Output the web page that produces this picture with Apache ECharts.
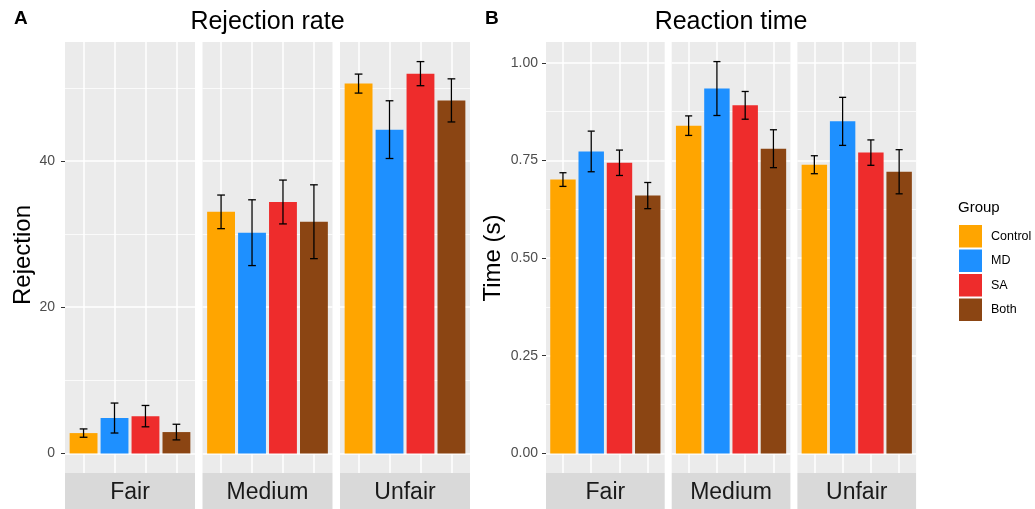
<!DOCTYPE html>
<html>
<head>
<meta charset="utf-8">
<script src="https://cdn.jsdelivr.net/npm/echarts@6/dist/echarts.min.js"></script>
<style>
html, body { margin: 0; padding: 0; background: #fff; }
#chart { width: 1035px; height: 509px; }
</style>
</head>
<body>
<div id="chart"></div>
<script>
// groups / facets
var groups = ['Control', 'MD', 'SA', 'Both'];
var conditions = ['Fair', 'Medium', 'Unfair'];
var groupColors = ['#FFA500', '#1E90FF', '#EE2C2C', '#8B4513'];

// rejection rate, one row per condition, one column per group
var rejectionMean = [
	[2.78, 4.84, 5.10, 2.92],
	[33.05, 30.2, 34.4, 31.7],
	[50.6, 44.3, 51.96, 48.3]
];
var rejectionSe = [
	[0.57, 2.05, 1.46, 1.07],
	[2.3, 4.5, 3.0, 5.05],
	[1.3, 3.95, 1.65, 2.95]
];
var rejectionTicks = [0, 20, 40];
var rejectionMinor = [10, 30, 50];

// reaction time (s)
var timeMean = [
	[0.701, 0.773, 0.744, 0.660],
	[0.839, 0.934, 0.891, 0.780],
	[0.739, 0.850, 0.770, 0.721]
];
var timeSe = [
	[0.0175, 0.052, 0.0325, 0.0335],
	[0.025, 0.069, 0.0355, 0.0485],
	[0.023, 0.0615, 0.0325, 0.0565]
];
var timeTicks = [0, 0.25, 0.5, 0.75, 1.0];
var timeMinor = [0.125, 0.375, 0.625, 0.875];

var FONT = '"Liberation Sans", Arial, sans-serif';
var panelTop = 42, panelHeight = 431, stripHeight = 38;

var rows = [{
	title: 'Rejection rate', letter: 'A', letterX: 14, yName: 'Rejection', yNameX: 23.5, yNameY: 255,
	mean: rejectionMean, se: rejectionSe, ticks: rejectionTicks, minor: rejectionMinor,
	lefts: [65, 202.5, 340], width: 130,
	fmt: function(v) { return String(v); }, labelMargin: 10
}, {
	title: 'Reaction time', letter: 'B', letterX: 485, yName: 'Time (s)', yNameX: 493, yNameY: 258,
	mean: timeMean, se: timeSe, ticks: timeTicks, minor: timeMinor,
	lefts: [546, 671.7, 797.4], width: 118.7,
	fmt: function(v) { return v.toFixed(2); }, labelMargin: 8
}];

var xPos = groups.map(function(g, k) { return k + 1; });

var grid = [], xAxis = [], yAxis = [], series = [], graphic = [];

function errorBarItem(params, api) {
	var x = api.value(0);
	var lo = api.coord([x, api.value(1)]);
	var hi = api.coord([x, api.value(2)]);
	var half = api.size([0.25, 0])[0] / 2;
	var st = { stroke: '#000', lineWidth: 1.3 };
	return {
		type: 'group',
		children: [
			{ type: 'line', shape: { x1: lo[0], y1: lo[1], x2: hi[0], y2: hi[1] }, style: st },
			{ type: 'line', shape: { x1: hi[0] - half, y1: hi[1], x2: hi[0] + half, y2: hi[1] }, style: st },
			{ type: 'line', shape: { x1: lo[0] - half, y1: lo[1], x2: lo[0] + half, y2: lo[1] }, style: st }
		]
	};
}

rows.forEach(function(row, r) {
	// ggplot style 5% expansion
	var top = 0;
	row.mean.forEach(function(m, c) {
		m.forEach(function(v, k) { top = Math.max(top, v + row.se[c][k]); });
	});
	var pad = top * 0.05;
	var yMin = -pad, yMax = top + pad;

	conditions.forEach(function(cond, c) {
		var idx = r * 3 + c;
		var left = row.lefts[c];
		grid.push({
			left: left, top: panelTop, width: row.width, height: panelHeight,
			show: true, backgroundColor: '#EBEBEB', borderWidth: 0, containLabel: false
		});
		xAxis.push({
			type: 'value', gridIndex: idx, min: 0.4, max: 4.6,
			axisLine: { show: false },
			axisLabel: { show: false, customValues: xPos },
			axisTick: { show: false, customValues: xPos },
			splitLine: { show: true, lineStyle: { color: '#FFFFFF', width: 1.5 } }
		});
		var first = c === 0;
		yAxis.push({
			type: 'value', gridIndex: idx, min: yMin, max: yMax,
			axisLine: { show: false },
			axisTick: { show: first, length: 4, customValues: row.ticks, lineStyle: { color: '#333333', width: 1 } },
			axisLabel: {
				show: first, customValues: row.ticks, formatter: row.fmt,
				color: '#4D4D4D', fontSize: 14, fontFamily: FONT, margin: row.labelMargin
			},
			splitLine: { show: true, lineStyle: { color: '#FFFFFF', width: 1.5 } }
		});
		yAxis.push({
			type: 'value', gridIndex: idx, min: yMin, max: yMax, position: 'right',
			axisLine: { show: false },
			axisTick: { show: false, customValues: row.minor },
			axisLabel: { show: false, customValues: row.minor },
			splitLine: { show: true, lineStyle: { color: '#FFFFFF', width: 0.75 } }
		});

		groups.forEach(function(g, k) {
			series.push({
				name: g, type: 'bar', xAxisIndex: idx, yAxisIndex: idx * 2,
				barWidth: '90%', barGap: '-100%',
				itemStyle: { color: groupColors[k] },
				emphasis: { disabled: true },
				data: [[xPos[k], row.mean[c][k]]]
			});
		});
		series.push({
			type: 'custom', xAxisIndex: idx, yAxisIndex: idx * 2, z: 5,
			renderItem: errorBarItem, silent: true,
			encode: { x: 0, y: [1, 2] },
			data: groups.map(function(g, k) {
				return [xPos[k], row.mean[c][k] - row.se[c][k], row.mean[c][k] + row.se[c][k]];
			})
		});

		// facet strip
		graphic.push({
			type: 'rect', silent: true,
			shape: { x: left, y: panelTop + panelHeight, width: row.width, height: stripHeight },
			style: { fill: '#D9D9D9' }
		});
		graphic.push({
			type: 'text', silent: true, x: left + row.width / 2, y: panelTop + panelHeight + 20,
			style: { text: cond, fontSize: 23, fontFamily: FONT, fill: '#1A1A1A', align: 'center', verticalAlign: 'middle' }
		});
	});

	var mid = (row.lefts[0] + row.lefts[2] + row.width) / 2;
	graphic.push({
		type: 'text', silent: true, x: mid, y: 22.5,
		style: { text: row.title, fontSize: 25, fontFamily: FONT, fill: '#000', align: 'center', verticalAlign: 'middle' }
	});
	graphic.push({
		type: 'text', silent: true, x: row.letterX, y: 19,
		style: { text: row.letter, fontSize: 19, fontWeight: 'bold', fontFamily: FONT, fill: '#000', align: 'left', verticalAlign: 'middle' }
	});
	graphic.push({
		type: 'text', silent: true, x: row.yNameX, y: row.yNameY, rotation: Math.PI / 2,
		style: { text: row.yName, fontSize: 24, fontFamily: FONT, fill: '#000', align: 'center', verticalAlign: 'middle' }
	});
});

graphic.push({
	type: 'text', silent: true, x: 958, y: 208,
	style: { text: 'Group', fontSize: 15, fontFamily: FONT, fill: '#000', align: 'left', verticalAlign: 'middle' }
});

var myChart = echarts.init(document.getElementById('chart'));
myChart.setOption({
	animation: false,
	textStyle: { fontFamily: FONT },
	legend: {
		data: groups, orient: 'vertical', left: 959, top: 225, padding: 0,
		icon: 'rect', itemWidth: 23, itemHeight: 22.5, itemGap: 2,
		selectedMode: false,
		textStyle: { fontSize: 12.5, color: '#000', fontFamily: FONT, padding: [0, 0, 0, 4] }
	},
	grid: grid,
	xAxis: xAxis,
	yAxis: yAxis,
	series: series,
	graphic: graphic
});
</script>
</body>
</html>
